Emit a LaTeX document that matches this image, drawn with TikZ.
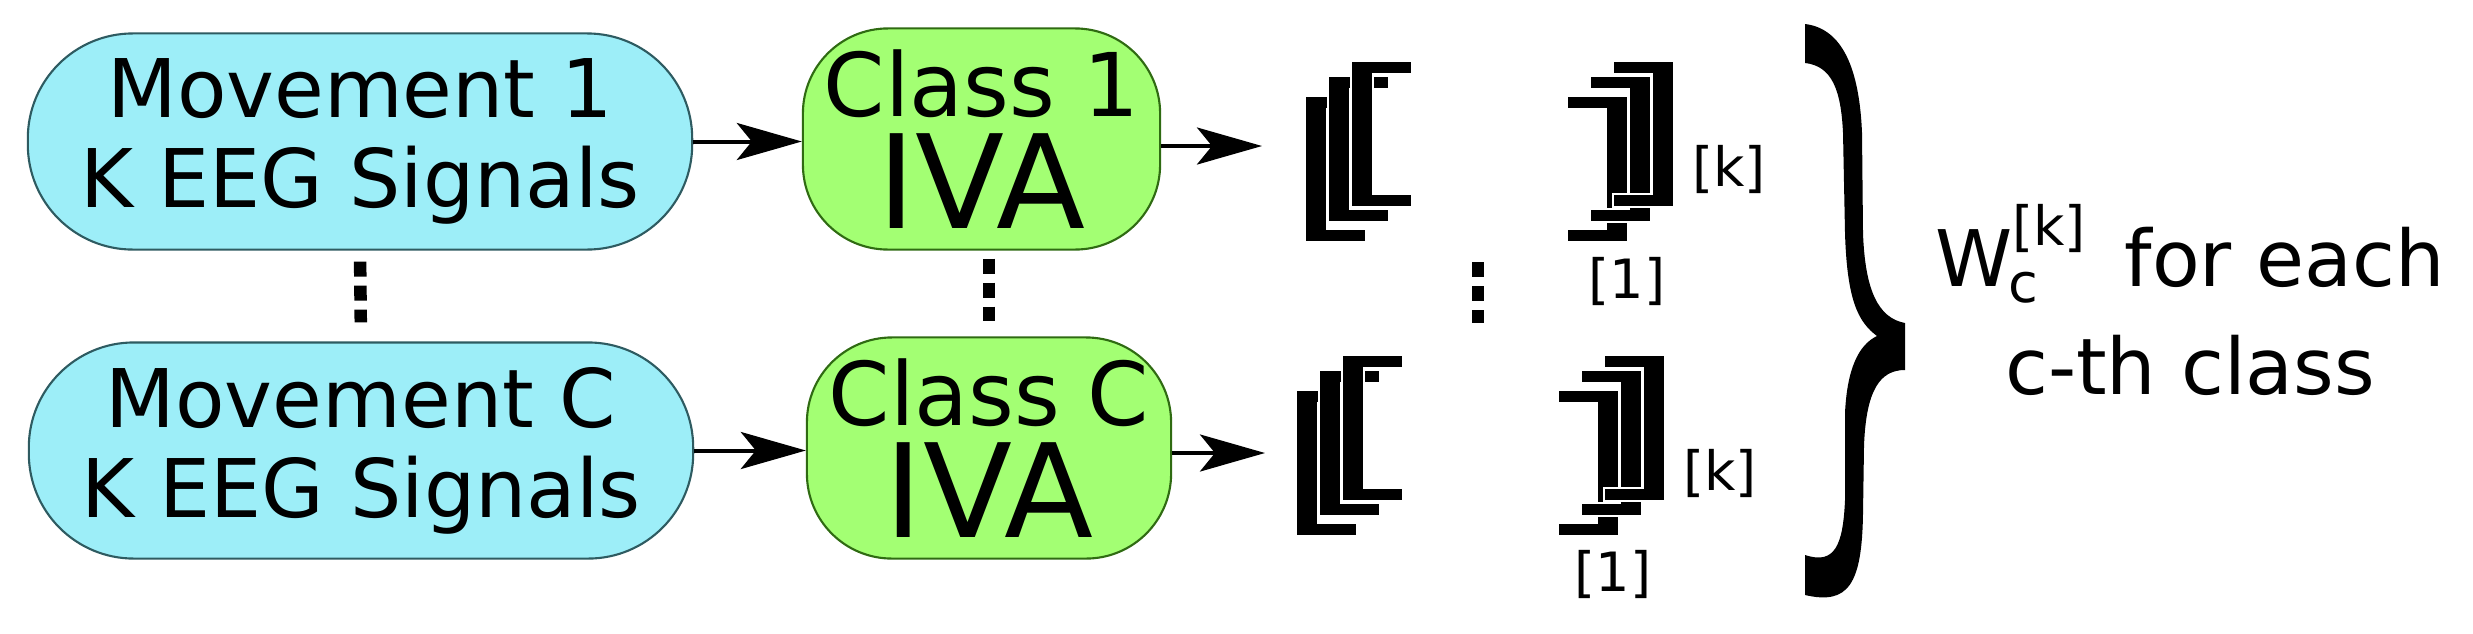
\documentclass[tikz,border=0pt]{standalone}
\usepackage{fontspec}
\setmainfont{DejaVu Sans}
\usetikzlibrary{arrows.meta,positioning}
\definecolor{movfill}{RGB}{157,238,248}
\definecolor{movline}{RGB}{46,91,97}
\definecolor{clsfill}{RGB}{163,255,115}
\definecolor{clsline}{RGB}{47,107,18}
\newcommand{\lblfont}{\fontsize{15.4}{18}\selectfont}
\begin{document}
\begin{tikzpicture}[x=0.01cm,y=-0.01cm,
    >={Stealth[length=0.65cm,width=0.37cm,inset=0.15cm]},
    movbox/.style={draw=movline,fill=movfill,line width=0.6pt,rounded corners=1.05cm,
      minimum width=6.64cm,minimum height=2.16cm,align=center,inner sep=0pt,
      font=\fontsize{23}{25.6}\selectfont},
    clsbox/.style={draw=clsline,fill=clsfill,line width=0.6pt,rounded corners=0.85cm,
      minimum height=2.21cm,align=center,inner sep=0pt,
      font=\fontsize{25}{32}\selectfont},
    flow/.style={->,line width=0.04cm},
    dots/.style={line width=0.125cm,dash pattern=on 0.15cm off 0.09cm},
    matbr/.style={fill=black,draw=white,line width=0.02cm},
    idx/.style={anchor=base,inner sep=0pt,font=\lblfont}]
  \useasboundingbox (0,0) rectangle (2473,633);
  % inputs and IVA blocks
  \node[movbox] (mov1) at (360,141.5) {Movement 1\\K EEG Signals};
  \node[movbox] (movC) at (361,450.5) {Movement C\\K EEG Signals};
  \node[clsbox,minimum width=3.57cm] (cls1) at (981.5,139)
    {Class 1\\{\fontsize{37}{32}\selectfont IVA}};
  \node[clsbox,minimum width=3.64cm] (clsC) at (989,448)
    {Class C\\{\fontsize{37}{32}\selectfont IVA}};
  \draw[flow] (mov1.east) -- (mov1.east -| cls1.west);
  \draw[flow] (movC.east) -- (movC.east -| clsC.west);
  \coordinate (in1) at (1262,146);
  \coordinate (inC) at (1265,453);
  \draw[flow] (cls1.east |- in1) -- (in1);
  \draw[flow] (clsC.east |- inC) -- (inC);
  \draw[dots,shorten <=0.11cm,shorten >=0.19cm] (mov1.south) -- (movC.north);
  \draw[dots,shorten <=0.08cm,shorten >=0.15cm] (clsC.north |- cls1.south) -- (clsC.north);
  % stacked demixing matrices
  \foreach \sx/\sy in {1306/97,1297/391}
    \foreach \dx/\dy in {0/0,23/-20,46/-35} {
      \filldraw[matbr] ({\sx+\dx-1},{\sy+\dy-1}) -- ++(61,0) -- ++(0,13)
        -- ++(-39,0) -- ++(0,120) -- ++(39,0) -- ++(0,13) -- ++(-61,0) -- cycle;
      \filldraw[matbr] ({\sx+\dx+261},{\sy+\dy-1}) -- ++(61,0) -- ++(0,146)
        -- ++(-61,0) -- ++(0,-13) -- ++(39,0) -- ++(0,-120) -- ++(-39,0) -- cycle;
    }
  \node[idx] (k1) at (1729,186) {[k]};
  \node[idx] (one1) at (1627,298) {[1]};
  \node[idx] (kC) at (1720,490) {[k]};
  \node[idx] (oneC) at (1613,591) {[1]};
  \draw[dots] (1478,262) -- (1478,323);
  % brace and result
  \fill (1805,24) .. controls (1838,28) and (1859,60) .. (1862,133)
    -- (1863,233) .. controls (1865,290) and (1878,318) .. (1905,323)
    -- (1905,370) .. controls (1880,370) and (1866,390) .. (1864,446)
    -- (1863,513) .. controls (1862,585) and (1848,605) .. (1805,595)
    -- (1805,555) .. controls (1835,565) and (1843,545) .. (1845,500)
    -- (1845,413) .. controls (1847,370) and (1858,345) .. (1877,336)
    .. controls (1858,322) and (1847,300) .. (1845,233)
    -- (1843,133) .. controls (1841,90) and (1832,66) .. (1805,63) -- cycle;
  \node[align=center,inner sep=0pt,font=\fontsize{22.2}{30.7}\selectfont] (note) at (2190,300)
    {W\rlap{\hspace{-1pt}\raisebox{-4.5pt}{\lblfont c}}\raisebox{11.7pt}{\lblfont[k]}\hspace{11pt}for each\\c-th class};
\end{tikzpicture}
\end{document}
